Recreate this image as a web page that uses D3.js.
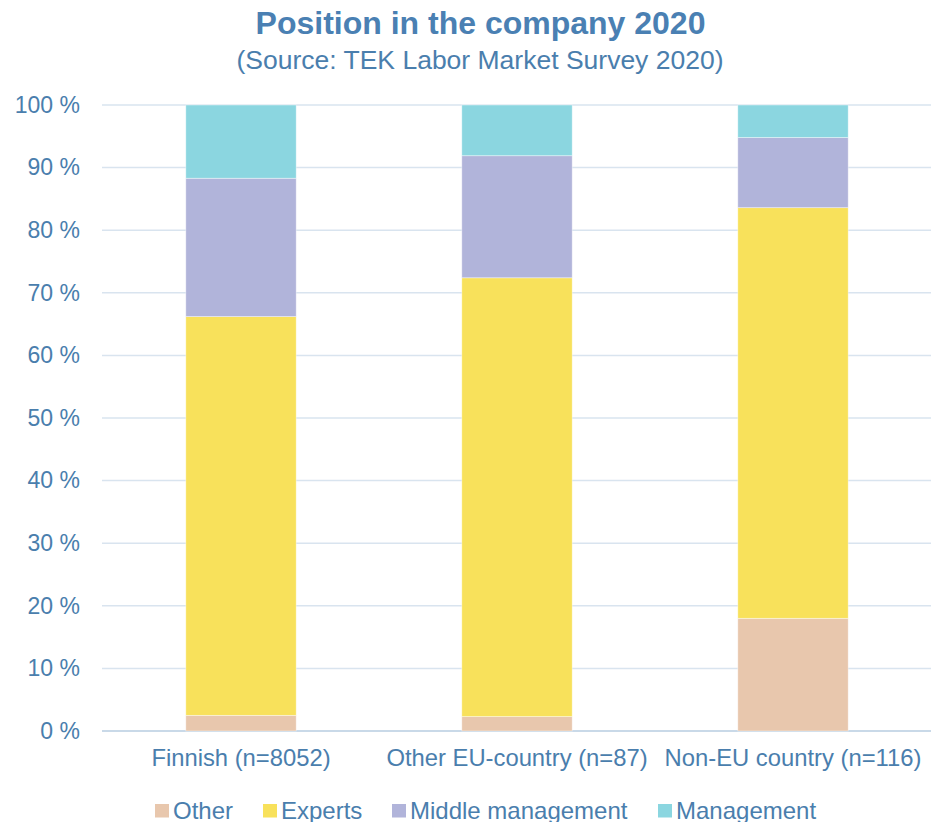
<!DOCTYPE html>
<html>
<head>
<meta charset="utf-8">
<script src="https://cdn.jsdelivr.net/npm/d3@7"></script>
<style>
  html, body { margin: 0; padding: 0; background: #fff; }
  svg { display: block; font-family: "Liberation Sans", Arial, sans-serif; }
</style>
</head>
<body>
<svg id="chart" width="931" height="822"></svg>
<script>
// Share of respondents by position, per origin group (percent)
const categories = ["Finnish (n=8052)", "Other EU-country (n=87)", "Non-EU country (n=116)"];
const seriesNames = ["Other", "Experts", "Middle management", "Management"];
const other = [2.5, 2.3, 18.0];
const experts = [63.7, 70.1, 65.6];
const middleManagement = [22.1, 19.5, 11.2];
const management = [11.7, 8.1, 5.2];
const tickValues = [0, 10, 20, 30, 40, 50, 60, 70, 80, 90, 100];
const colors = ["#E8C7AD", "#F8E15B", "#B1B4DA", "#8BD6E0"];

const textColor = "#4A7EAD";
const svg = d3.select("#chart");
const margin = { top: 105, right: 0, bottom: 91, left: 103 };
const width = 931, height = 822;
const innerW = width - margin.left - margin.right;
const innerH = height - margin.top - margin.bottom;

const rows = categories.map((c, i) => ({
  category: c,
  "Other": other[i],
  "Experts": experts[i],
  "Middle management": middleManagement[i],
  "Management": management[i]
}));

const stack = d3.stack().keys(seriesNames);
const stacked = stack(rows);

const x = d3.scaleBand().domain(categories).range([0, innerW]).paddingInner(0.6).paddingOuter(0.3);
const y = d3.scaleLinear().domain([0, 100]).range([innerH, 0]);
const color = d3.scaleOrdinal().domain(seriesNames).range(colors);

const g = svg.append("g").attr("transform", `translate(${margin.left},${margin.top})`);

// Horizontal gridlines
g.append("g")
  .selectAll("line")
  .data(tickValues)
  .join("line")
  .attr("x1", -1).attr("x2", innerW)
  .attr("y1", d => y(d)).attr("y2", d => y(d))
  .attr("stroke", d => d === 0 ? "#C9D9E8" : "#D9E4EF")
  .attr("stroke-width", d => d === 0 ? 2 : 1.5);

// Y axis labels
const yAxis = d3.axisLeft(y).tickValues(tickValues).tickSize(0).tickPadding(23)
  .tickFormat(d => d + " %");
g.append("g").call(yAxis)
  .call(a => a.select(".domain").remove())
  .selectAll("text")
  .attr("fill", textColor)
  .attr("font-size", 23)
  .attr("font-family", "\"Liberation Sans\", Arial, sans-serif");

// Stacked bars
g.append("g")
  .selectAll("g")
  .data(stacked)
  .join("g")
  .attr("fill", d => color(d.key))
  .selectAll("rect")
  .data(d => d)
  .join("rect")
  .attr("x", d => x(d.data.category))
  .attr("width", x.bandwidth())
  .attr("y", d => y(d[1]))
  .attr("height", d => y(d[0]) - y(d[1]))
  .attr("stroke", "#ffffff")
  .attr("stroke-opacity", 0.5)
  .attr("stroke-width", 0.8);

// X axis labels
const xAxis = d3.axisBottom(x).tickSize(0).tickPadding(18);
g.append("g").attr("transform", `translate(0,${innerH})`).call(xAxis)
  .call(a => a.select(".domain").remove())
  .selectAll("text")
  .attr("fill", textColor)
  .attr("font-size", 23.8)
  .attr("font-family", "\"Liberation Sans\", Arial, sans-serif");

// Title
svg.append("text")
  .attr("x", 480.5).attr("y", 34)
  .attr("text-anchor", "middle")
  .attr("fill", "#4A80B3")
  .attr("font-weight", "bold")
  .attr("font-size", 32)
  .text("Position in the company 2020");

svg.append("text")
  .attr("x", 480).attr("y", 69)
  .attr("text-anchor", "middle")
  .attr("fill", textColor)
  .attr("font-size", 26.5)
  .text("(Source: TEK Labor Market Survey 2020)");

// Legend
const legendX = [155, 263, 392, 658];
const legend = svg.append("g").attr("transform", "translate(0,819)");
const items = legend.selectAll("g").data(seriesNames).join("g")
  .attr("transform", (d, i) => `translate(${legendX[i]},0)`);
items.append("rect")
  .attr("x", 0).attr("y", -15)
  .attr("width", 14).attr("height", 13.5)
  .attr("fill", d => color(d));
items.append("text")
  .attr("x", 18).attr("y", 0)
  .attr("fill", textColor)
  .attr("font-size", 24)
  .text(d => d);
</script>
</body>
</html>
